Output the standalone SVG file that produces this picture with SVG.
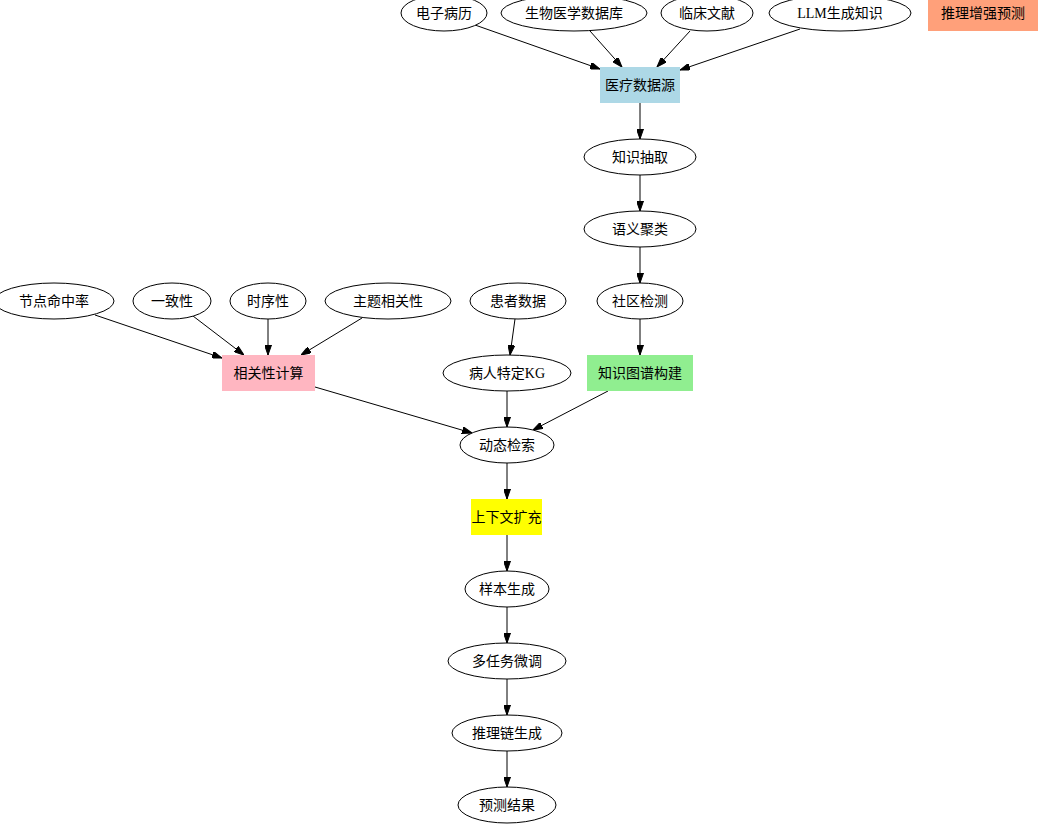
<svg xmlns="http://www.w3.org/2000/svg" width="1045" height="831" viewBox="0 0 1045 831">
<defs>
<marker id="arr" markerUnits="userSpaceOnUse" markerWidth="10" markerHeight="7" refX="10" refY="3.5" orient="auto">
<path d="M0,0 L10,3.5 L0,7 z" fill="#000" stroke="#000" stroke-width="1"/>
</marker>
<style>
text{font-family:"Liberation Serif","Noto Sans CJK SC",serif;font-size:14px;fill:#000;text-anchor:middle;dominant-baseline:central}
ellipse{fill:#fff;stroke:#000;stroke-width:1}
.box{stroke:none}
#edges line{stroke:#000;stroke-width:1;marker-end:url(#arr)}
</style>
</defs>
<rect width="1045" height="831" fill="#fff"/>
<g id="edges">
<line x1="475" y1="25" x2="600" y2="69"/>
<line x1="590" y1="31" x2="622" y2="67"/>
<line x1="690" y1="31" x2="657" y2="67"/>
<line x1="800" y1="29" x2="680" y2="70"/>
<line x1="640" y1="103" x2="640" y2="139"/>
<line x1="640" y1="175" x2="640" y2="211"/>
<line x1="640" y1="247" x2="640" y2="283"/>
<line x1="640" y1="319" x2="640" y2="355"/>
<line x1="95" y1="315" x2="222" y2="358"/>
<line x1="193" y1="316" x2="244" y2="355"/>
<line x1="268" y1="319" x2="268" y2="355"/>
<line x1="362" y1="318" x2="301" y2="355"/>
<line x1="515" y1="319" x2="510" y2="355"/>
<line x1="507" y1="391" x2="507" y2="427"/>
<line x1="315" y1="387" x2="472" y2="433"/>
<line x1="608" y1="391" x2="533" y2="430"/>
<line x1="507" y1="463" x2="507" y2="499"/>
<line x1="507" y1="535" x2="507" y2="571"/>
<line x1="507" y1="607" x2="507" y2="643"/>
<line x1="507" y1="679" x2="507" y2="715"/>
<line x1="507" y1="751" x2="507" y2="787"/>
</g>
<g id="n_dianzibingli"><ellipse cx="444" cy="13" rx="43" ry="18"/><text x="444" y="13">电子病历</text></g>
<g id="n_shengwu"><ellipse cx="574" cy="13" rx="73" ry="18"/><text x="574" y="13">生物医学数据库</text></g>
<g id="n_linchuang"><ellipse cx="707" cy="13" rx="46" ry="18"/><text x="707" y="13">临床文献</text></g>
<g id="n_llm"><ellipse cx="840" cy="13" rx="71" ry="18"/><text x="840" y="13">LLM生成知识</text></g>
<g id="n_tuili_zengqiang"><rect class="box" x="928" y="-5" width="110" height="36" fill="#ffa07a"/><text x="983" y="13">推理增强预测</text></g>
<g id="n_yiliao"><rect class="box" x="600" y="67" width="80" height="36" fill="#add8e6"/><text x="640" y="85">医疗数据源</text></g>
<g id="n_zhishichouqu"><ellipse cx="640" cy="157" rx="56" ry="18"/><text x="640" y="157">知识抽取</text></g>
<g id="n_yuyi"><ellipse cx="640" cy="229" rx="56" ry="18"/><text x="640" y="229">语义聚类</text></g>
<g id="n_shequ"><ellipse cx="640" cy="301" rx="43" ry="18"/><text x="640" y="301">社区检测</text></g>
<g id="n_kg"><rect class="box" x="587" y="355" width="106" height="36" fill="#90ee90"/><text x="640" y="373">知识图谱构建</text></g>
<g id="n_jiedian"><ellipse cx="54" cy="301" rx="60" ry="18"/><text x="54" y="301">节点命中率</text></g>
<g id="n_yizhi"><ellipse cx="172" cy="301" rx="39" ry="18"/><text x="172" y="301">一致性</text></g>
<g id="n_shixu"><ellipse cx="268" cy="301" rx="38" ry="18"/><text x="268" y="301">时序性</text></g>
<g id="n_zhuti"><ellipse cx="388" cy="301" rx="63" ry="18"/><text x="388" y="301">主题相关性</text></g>
<g id="n_huanzhe"><ellipse cx="518" cy="301" rx="48" ry="18"/><text x="518" y="301">患者数据</text></g>
<g id="n_xiangguan"><rect class="box" x="222" y="355" width="93" height="36" fill="#ffb6c1"/><text x="268.5" y="373">相关性计算</text></g>
<g id="n_bingren"><ellipse cx="507" cy="373" rx="64" ry="18"/><text x="507" y="373">病人特定KG</text></g>
<g id="n_dongtai"><ellipse cx="507" cy="445" rx="47" ry="18"/><text x="507" y="445">动态检索</text></g>
<g id="n_shangxiawen"><rect class="box" x="471" y="499" width="71" height="36" fill="#ffff00"/><text x="506.5" y="517">上下文扩充</text></g>
<g id="n_yangben"><ellipse cx="507" cy="589" rx="42" ry="18"/><text x="507" y="589">样本生成</text></g>
<g id="n_duorenwu"><ellipse cx="507" cy="661" rx="59" ry="18"/><text x="507" y="661">多任务微调</text></g>
<g id="n_tuililian"><ellipse cx="507" cy="733" rx="55" ry="18"/><text x="507" y="733">推理链生成</text></g>
<g id="n_yuce"><ellipse cx="507" cy="805" rx="49" ry="18"/><text x="507" y="805">预测结果</text></g>
</svg>
